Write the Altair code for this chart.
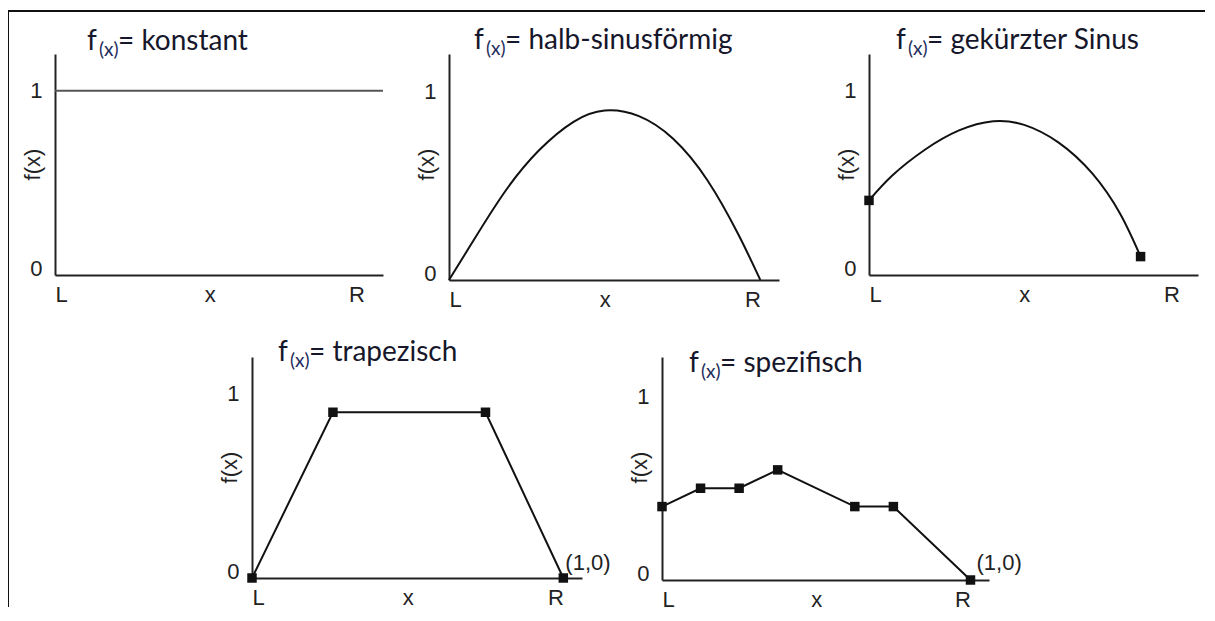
import altair as alt
import pandas as pd

# ---------------- data ----------------
TITLES = ["konstant", "halb-sinusförmig", "gekürzter Sinus", "trapezisch", "spezifisch"]
FUNC_MAIN = "f"
FUNC_SUB = "(x)"

KONST_X = [0.0, 1.06]
KONST_Y = [1.0, 1.0]

HALB_X = [0.00, 0.075, 0.18, 0.29, 0.40, 0.50, 0.61, 0.72, 0.83, 0.93, 1.00]
HALB_Y = [0.00, 0.20, 0.47, 0.69, 0.84, 0.90, 0.87, 0.75, 0.53, 0.24, 0.00]

GEK_X = [0.00, 0.075, 0.18, 0.29, 0.40, 0.50, 0.61, 0.72, 0.81, 0.875]
GEK_Y = [0.405, 0.54, 0.68, 0.785, 0.835, 0.815, 0.72, 0.55, 0.33, 0.10]

TRAP_X = [0.0, 0.26, 0.75, 1.0]
TRAP_Y = [0.0, 0.90, 0.90, 0.0]

SPEZ_X = [0.0, 0.125, 0.25, 0.375, 0.625, 0.75, 1.0]
SPEZ_Y = [0.40, 0.50, 0.50, 0.60, 0.40, 0.40, 0.0]

X_TICKS = [0.0, 0.5, 1.0]
X_LABELS = ["L", "x", "R"]
Y_TICKS = [0.0, 1.0]
Y_LABELS = ["0", "1"]
Y_TITLE = "f(x)"
END_POINT_X = [1.0]
END_POINT_Y = [0.0]
END_LABEL = ["(1,0)"]

# ---------------- styling ----------------
LABEL_FONT = "Liberation Sans"
TITLE_FONT = "Lato"
INK = "#222222"
TITLE_INK = "#17172b"
SUB_INK = "#1f2d5c"
ONE = pd.DataFrame({"a": [0]})


def expr_map(ticks, labels):
    arr_l = "[" + ",".join("'%s'" % l for l in labels) + "]"
    arr_t = "[" + ",".join(repr(float(t)) for t in ticks) + "]"
    return "%s[indexof(%s, datum.value)]" % (arr_l, arr_t)


X_ENC = alt.X(
    "x:Q",
    scale=alt.Scale(domain=[0, 1.06], nice=False, zero=False),
    axis=alt.Axis(
        values=X_TICKS, labelExpr=expr_map(X_TICKS, X_LABELS), title=None,
        grid=False, ticks=False, tickSize=0, domainColor=INK, domainWidth=2,
        labelFont=LABEL_FONT, labelFontSize=22, labelColor=INK, labelPadding=9,
        labelFlush=False, labelBaseline="top",
        labelAlign={"condition": [{"test": "datum.value <= 0", "value": "left"},
                                  {"test": "datum.value >= 1", "value": "right"}],
                    "value": "center"},
    ),
)


def y_enc(top=1.2):
    return alt.Y(
        "y:Q",
        scale=alt.Scale(domain=[0, top], nice=False),
        axis=alt.Axis(
            values=Y_TICKS, labelExpr=expr_map(Y_TICKS, Y_LABELS), title=Y_TITLE,
            grid=False, ticks=False, tickSize=0, domainColor=INK, domainWidth=2,
            labelFont=LABEL_FONT, labelFontSize=22, labelColor=INK, labelPadding=13,
            labelBaseline={"condition": {"test": "datum.value <= 0", "value": "alphabetic"},
                           "value": "middle"},
            titleFont=LABEL_FONT, titleFontSize=22, titleFontWeight="normal", titleColor=INK,
            titleX=-23, titleY=110, titleAngle=270, titleBaseline="middle", titleAlign="center",
        ),
    )


def line_layer(xs, ys, Y, color="#111111", interp="linear"):
    df = pd.DataFrame({"x": xs, "y": ys})
    return alt.Chart(df).mark_line(color=color, strokeWidth=2, interpolate=interp).encode(x=X_ENC, y=Y)


def square_layer(xs, ys, Y):
    df = pd.DataFrame({"x": xs, "y": ys})
    return alt.Chart(df).mark_square(size=90, color="#111111", opacity=1).encode(x=X_ENC, y=Y)


def end_label_layer(Y, dx, dy):
    df = pd.DataFrame({"x": END_POINT_X, "y": END_POINT_Y, "t": END_LABEL})
    return alt.Chart(df).mark_text(align="left", baseline="alphabetic", dx=dx, dy=dy,
                                   font=LABEL_FONT, fontSize=22, color=INK).encode(
        x=X_ENC, y=Y, text="t:N")


def title_layers(name, fx, fy):
    df = pd.DataFrame({"f": [FUNC_MAIN], "s": [FUNC_SUB], "t": ["= " + name]})
    f = alt.Chart(df).mark_text(align="left", baseline="alphabetic", font=TITLE_FONT,
                                fontSize=28, color=TITLE_INK).encode(
        text="f:N", x=alt.value(fx), y=alt.value(fy))
    s = alt.Chart(df).mark_text(align="left", baseline="alphabetic", font=TITLE_FONT,
                                fontSize=19, color=SUB_INK).encode(
        text="s:N", x=alt.value(fx + 12), y=alt.value(fy + 6))
    t = alt.Chart(df).mark_text(align="left", baseline="alphabetic", font=TITLE_FONT,
                                fontSize=28, color=TITLE_INK).encode(
        text="t:N", x=alt.value(fx + 31), y=alt.value(fy))
    return [f, s, t]


def blank(w, h):
    return alt.Chart(ONE).mark_point(opacity=0).encode(
        x=alt.value(0), y=alt.value(0)).properties(width=w, height=h)


def frame_rule(**enc):
    return alt.Chart(ONE).mark_rule(color="#111111", strokeWidth=2).encode(**enc)


Y12 = y_enc(1.2)

# row 1 ---------------------------------------------------------------
p1 = alt.layer(
    line_layer(KONST_X, KONST_Y, Y12, color="#555555"),
    frame_rule(x=alt.value(-47), x2=alt.value(1150), y=alt.value(-43)),
    frame_rule(x=alt.value(-47), y=alt.value(-43), y2=alt.value(272)),
    *title_layers(TITLES[0], 32, -4),
).properties(width=328, height=221)

p2 = alt.layer(
    line_layer(HALB_X, HALB_Y, Y12, interp="natural"),
    *title_layers(TITLES[1], 25, -5),
).properties(width=330, height=226)

p3 = alt.layer(
    line_layer(GEK_X, GEK_Y, Y12, interp="natural"),
    square_layer([GEK_X[0], GEK_X[-1]], [GEK_Y[0], GEK_Y[-1]], Y12),
    *title_layers(TITLES[2], 27, -5),
).properties(width=329, height=221)

row1 = alt.hconcat(p1, blank(66, 221), p2, blank(90, 221), p3, spacing=0, bounds="flush")

# row 2 ---------------------------------------------------------------
spacer = alt.layer(
    frame_rule(x=alt.value(-47), y=alt.value(-33), y2=alt.value(250)),
).properties(width=197, height=10)

p4 = alt.layer(
    line_layer(TRAP_X, TRAP_Y, Y12),
    square_layer(TRAP_X, TRAP_Y, Y12),
    end_label_layer(Y12, 2, -8),
    *title_layers(TITLES[3], 26, 4),
).properties(width=330, height=221)

Y5 = y_enc(1.215)
p5 = alt.layer(
    line_layer(SPEZ_X, SPEZ_Y, Y5),
    square_layer(SPEZ_X, SPEZ_Y, Y5),
    end_label_layer(Y5, 6, -10),
    *title_layers(TITLES[4], 27, 15),
).properties(width=327, height=223)

row2 = alt.hconcat(spacer, p4, blank(80, 10), p5, spacing=0, bounds="flush")

chart = alt.vconcat(row1, row2, spacing=-4).properties(
    padding={"left": -1, "top": 2, "right": 0, "bottom": 0},
    background="white",
).configure_view(strokeWidth=0)

chart.save("out.html", embed_options={"renderer": "svg", "actions": False})
